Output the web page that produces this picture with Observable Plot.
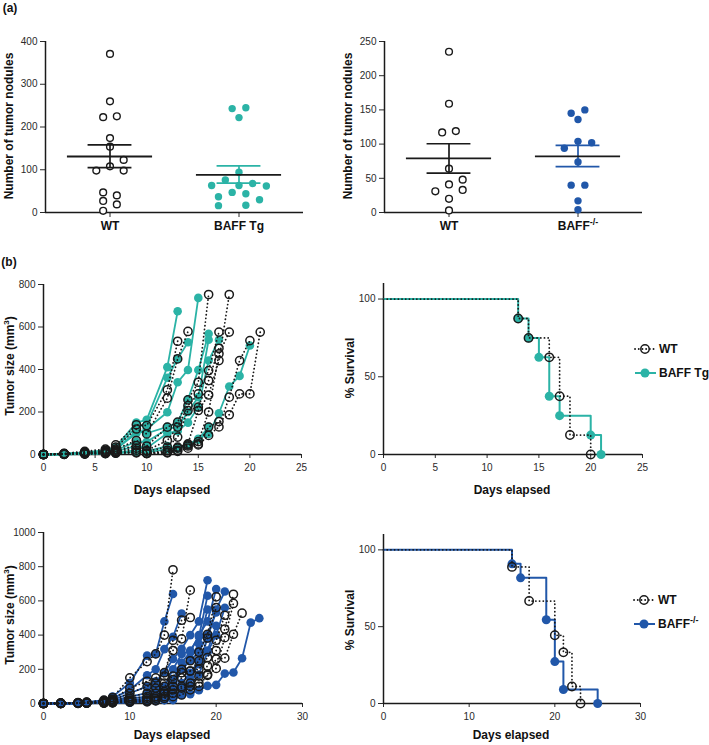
<!DOCTYPE html>
<html><head><meta charset="utf-8">
<script src="https://cdn.jsdelivr.net/npm/d3@7"></script>
<script src="https://cdn.jsdelivr.net/npm/@observablehq/plot@0.6"></script>
<style>
body{margin:0;background:#fff;}
#fig{position:relative;width:709px;height:745px;overflow:hidden;font-family:"Liberation Sans",Arial,sans-serif;color:#111;background:#fff;}
.t{position:absolute;white-space:nowrap;font-weight:bold;font-size:12px;transform:translate(-50%,-50%);line-height:1;}
.ty{transform:translate(-50%,-50%) rotate(-90deg);}
.t sup{font-size:8px;vertical-align:5px;line-height:0;}
.cat [aria-label^="x-axis"] text{font-weight:bold;font-size:12px;fill:#111;}
</style></head><body><div id="fig"></div>
<script>
// ---------------- DATA ----------------
// (a) left: tumor nodules, WT vs BAFF Tg
const namesA1 = ["WT", "BAFF Tg"];
const wtNodA1 = [371, 260, 223, 225, 174, 154, 123, 108, 98, 98, 47, 40, 27, 19, 4];
const wtJitA1 = [0, 0, -1, 1, 0, 0, 2, 0, -2, 2, -1, 1, -1, 1, -1];
const tgNodA1 = [243, 245, 222, 94, 76, 63, 63, 68, 62, 47, 44, 37, 30, 16, 17];
const tgJitA1 = [-1, 1, 0, 0, -2, -4, 0, 2, 4, -1, 1, -3, 3, -3, 1];
const meanA1 = [131, 88];
const semLoA1 = [105, 68.5];
const semHiA1 = [158, 109];
const yTicksA1 = [0, 100, 200, 300, 400];

// (a) right: tumor nodules, WT vs BAFF-/-
const namesA2 = ["WT", "BAFF-/-"];
const wtNodA2 = [235, 159, 117, 119, 64, 41, 48, 31, 33, 20, 3];
const wtJitA2 = [0, 0, -1, 1, 0, 0, 2, -2, 2, 0, 0];
const koNodA2 = [150, 145, 136, 104, 102, 94, 74, 40, 40, 17, 4];
const koJitA2 = [1, -1, 0, 0, 2, -2, 0, -1, 1, 0, 0];
const meanA2 = [79, 82];
const semLoA2 = [57.5, 67];
const semHiA2 = [100.5, 98];
const yTicksA2 = [0, 50, 100, 150, 200, 250];

// (b) top-left: tumor growth (mm3), WT vs BAFF Tg
const daysB1 = [0, 2, 4, 6, 7, 9, 10, 12, 13, 14, 15, 16, 17, 18, 19, 20, 21];
const wtGrowthB1 = [
  [0, 5, 15, 25, 45, 140, 136, 304, 533],
  [0, 4, 10, 20, 35, 120, 97, 265, 450, 579],
  [0, 3, 8, 15, 25, 66, 40, 129, 152, 257, 340, 753],
  [0, 3, 8, 12, 20, 42, 19, 66, 129, 230, 285, 395, 576],
  [0, 2, 6, 10, 15, 30, 15, 35, 82, 207, 223, 348, 500],
  [0, 2, 5, 8, 12, 20, 6, 20, 35, 50, 207, 280, 442, 753],
  [0, 2, 4, 6, 10, 11, 6, 11, 30, 45, 61, 200, 474, 576],
  [0, 1, 3, 5, 8, 10, 5, 10, 20, 40, 50, 129, 155, 187, 285, 285, 576],
  [0, 1, 2, 4, 6, 8, 4, 8, 15, 30, 45, 90, 130, 270, 442, 536]
];
const tgGrowthB1 = [
  [0, 4, 10, 20, 35, 150, 163, 411, 674],
  [0, 3, 8, 15, 30, 130, 140, 361, 450, 528],
  [0, 2, 6, 12, 25, 100, 120, 199, 340, 398, 737],
  [0, 2, 6, 12, 22, 110, 100, 130, 150, 260, 398, 568],
  [0, 2, 5, 10, 20, 60, 60, 120, 130, 200, 270, 540],
  [0, 1, 4, 8, 15, 40, 30, 100, 110, 150, 223, 442, 540],
  [0, 1, 3, 5, 8, 20, 15, 40, 27, 47, 74, 97, 194, 320, 370, 513],
  [0, 1, 2, 3, 5, 12, 10, 25, 35, 45, 70, 130]
];
const yTicksB1 = [0, 200, 400, 600, 800];
const xTicksB1 = [0, 5, 10, 15, 20, 25];

// (b) top-right: % survival
const survDayWtB2 = [0, 13, 14, 16, 17, 18, 20];
const survPctWtB2 = [100, 87.5, 75, 62.5, 37.5, 12.5, 0];
const survDayTgB2 = [0, 13, 14, 15, 16, 17, 20, 21];
const survPctTgB2 = [100, 87.5, 75, 62.5, 37.5, 25, 12.5, 0];

// (b) bottom-left: tumor growth (mm3), WT vs BAFF-/-
const daysB3 = [0, 2, 4, 5, 7, 8, 10, 12, 13, 14, 15, 16, 17, 18, 19, 20, 21, 22, 23, 24, 25];
const wtGrowthB3 = [
  [0, 2, 5, 8, 20, 35, 150, 245, 290, 400, 782],
  [0, 2, 4, 6, 15, 25, 90, 130, 150, 180, 310, 378, 663],
  [0, 1, 3, 5, 10, 20, 60, 100, 120, 160, 370, 487, 503],
  [0, 1, 3, 5, 8, 15, 40, 60, 90, 120, 160, 200, 250, 300, 405, 624],
  [0, 1, 2, 4, 6, 10, 30, 40, 60, 100, 140, 180, 190, 250, 383, 561],
  [0, 1, 2, 3, 5, 8, 20, 30, 40, 70, 100, 150, 190, 200, 269, 370, 516],
  [0, 1, 2, 3, 4, 6, 15, 20, 30, 60, 80, 100, 120, 160, 220, 310, 435, 639],
  [0, 0, 1, 2, 3, 5, 10, 15, 20, 40, 60, 90, 100, 120, 165, 205, 385, 585],
  [0, 0, 1, 2, 3, 4, 8, 10, 15, 30, 40, 50, 80, 100, 170, 260, 265, 405, 528]
];
const koGrowthB3 = [
  [0, 2, 5, 8, 20, 40, 120, 280, 290, 480, 640],
  [0, 2, 4, 6, 15, 30, 80, 165, 200, 318, 390, 526],
  [0, 1, 3, 5, 10, 20, 60, 100, 130, 180, 260, 320, 400, 480, 721],
  [0, 1, 3, 4, 8, 15, 40, 60, 90, 100, 200, 290, 310, 390, 630],
  [0, 1, 2, 3, 6, 10, 30, 40, 60, 90, 130, 200, 260, 350, 550],
  [0, 1, 2, 3, 5, 8, 20, 30, 40, 90, 140, 240, 300, 400, 480, 669],
  [0, 0, 2, 3, 5, 8, 15, 20, 30, 60, 90, 200, 250, 300, 400, 532],
  [0, 0, 1, 2, 4, 6, 10, 15, 20, 30, 60, 120, 180, 250, 310, 454],
  [0, 0, 1, 2, 4, 6, 10, 10, 20, 25, 40, 80, 150, 230, 380, 550, 655],
  [0, 0, 1, 2, 3, 5, 8, 10, 15, 20, 30, 50, 100, 170, 300, 400, 560],
  [0, 0, 1, 1, 2, 3, 5, 10, 15, 20, 20, 50, 55, 78, 103, 109, 175, 181, 265, 473, 499]
];
const yTicksB3 = [0, 200, 400, 600, 800, 1000];
const xTicksB3 = [0, 10, 20, 30];

// (b) bottom-right: % survival
const survDayWtB4 = [0, 15, 17, 20, 21, 22, 23];
const survPctWtB4 = [100, 88.9, 66.7, 44.4, 33.3, 11.1, 0];
const survDayKoB4 = [0, 15, 16, 19, 20, 21, 25];
const survPctKoB4 = [100, 90.9, 81.8, 54.5, 27.3, 9.1, 0];
const survTicks = [0, 50, 100];

// ---------------- STYLE / HELPERS ----------------
const teal = "#2bb3a6", blue = "#2157a9", ink = "#1a1a1a";
const fig = document.getElementById("fig");
const baseStyle = {fontFamily: "'Liberation Sans', Arial, sans-serif", fontSize: "10px", color: "#2a2a2a", background: "transparent", overflow: "visible"};
const dotted = {stroke: ink, strokeWidth: 1.8, strokeDasharray: "0.1,3.6", strokeLinecap: "round"};

function place(node, left, top) {
  node.style.position = "absolute";
  node.style.left = left + "px";
  node.style.top = top + "px";
  fig.appendChild(node);
}
function label(html, x, y, opts = {}) {
  const d = document.createElement("div");
  d.className = "t" + (opts.rot ? " ty" : "");
  d.innerHTML = html;
  d.style.left = x + "px";
  d.style.top = y + "px";
  if (opts.size) d.style.fontSize = opts.size + "px";
  if (opts.weight) d.style.fontWeight = opts.weight;
  fig.appendChild(d);
}
function superscriptKO(svg) {
  svg.querySelectorAll("text").forEach(t => {
    if (t.textContent === "BAFF-/-") {
      t.textContent = "BAFF";
      const ts = document.createElementNS("http://www.w3.org/2000/svg", "tspan");
      ts.setAttribute("dy", "-5");
      ts.setAttribute("font-size", "9");
      ts.textContent = "-/-";
      t.appendChild(ts);
    }
  });
}

// ---------------- (a) dot plots ----------------
function dotPanel(cfg) {
  const step = 0.053;
  const wtRows = cfg.wt.map((v, i) => ({x: 0 + cfg.wtJit[i] * step, y: v}));
  const koRows = cfg.ko.map((v, i) => ({x: 1 + cfg.koJit[i] * step, y: v}));
  const stats = cfg.names.map((n, i) => ({g: i, mean: cfg.mean[i], lo: cfg.lo[i], hi: cfg.hi[i]}));
  const colors = [ink, cfg.koColor];
  const marks = [
    Plot.ruleX([-0.5], {stroke: ink, strokeWidth: 1.5}),
    Plot.ruleY([0], {stroke: ink, strokeWidth: 1.5}),
    Plot.dot(wtRows, {x: "x", y: "y", r: 3.4, stroke: ink, strokeWidth: 1.4, fill: "white"}),
    Plot.dot(koRows, {x: "x", y: "y", r: 3.7, fill: cfg.koColor})
  ];
  stats.forEach((s, i) => {
    const c = colors[i];
    marks.push(Plot.ruleX([s], {x: "g", y1: "lo", y2: "hi", stroke: c, strokeWidth: 1.7}));
    marks.push(Plot.ruleY([s], {y: "lo", x1: d => d.g - 0.17, x2: d => d.g + 0.17, stroke: c, strokeWidth: 1.7}));
    marks.push(Plot.ruleY([s], {y: "hi", x1: d => d.g - 0.17, x2: d => d.g + 0.17, stroke: c, strokeWidth: 1.7}));
    marks.push(Plot.ruleY([s], {y: "mean", x1: d => d.g - 0.33, x2: d => d.g + 0.33, stroke: ink, strokeWidth: 1.8}));
  });
  const svg = Plot.plot({
    width: 330, height: 250,
    marginLeft: cfg.marginLeft, marginRight: cfg.marginRight, marginTop: 41, marginBottom: 38,
    className: "cat",
    style: baseStyle,
    x: {domain: [-0.5, 1.5], ticks: [0, 1], tickFormat: i => cfg.names[i], tickSize: 5, tickPadding: 4, label: null},
    y: {domain: [0, cfg.yTicks[cfg.yTicks.length - 1]], ticks: cfg.yTicks, tickSize: 5, tickPadding: 3, label: null, tickFormat: d3.format("d")},
    marks
  });
  superscriptKO(svg);
  return svg;
}

place(dotPanel({names: namesA1, wt: wtNodA1, wtJit: wtJitA1, ko: tgNodA1, koJit: tgJitA1, koColor: teal,
  mean: meanA1, lo: semLoA1, hi: semHiA1, yTicks: yTicksA1, marginLeft: 45, marginRight: 27}), 0, 0);
place(dotPanel({names: namesA2, wt: wtNodA2, wtJit: wtJitA2, ko: koNodA2, koJit: koJitA2, koColor: blue,
  mean: meanA2, lo: semLoA2, hi: semHiA2, yTicks: yTicksA2, marginLeft: 44, marginRight: 28}), 340, 0);

// ---------------- (b) growth curves ----------------
function toRows(mice, days) {
  const rows = [];
  mice.forEach((vals, m) => vals.forEach((v, i) => { if (v != null) rows.push({mouse: m, day: days[i], size: v}); }));
  return rows;
}
function growthPanel(cfg) {
  const wtRows = toRows(cfg.wt, cfg.days);
  const koRows = toRows(cfg.ko, cfg.days);
  return Plot.plot({
    width: 330, height: cfg.height,
    marginLeft: 43, marginRight: cfg.marginRight, marginTop: cfg.marginTop, marginBottom: cfg.marginBottom,
    style: baseStyle,
    x: {domain: [0, cfg.xTicks[cfg.xTicks.length - 1]], ticks: cfg.xTicks, tickSize: 4, tickPadding: 5, label: null},
    y: {domain: [0, cfg.yTicks[cfg.yTicks.length - 1]], ticks: cfg.yTicks, tickSize: 5, tickPadding: 3, label: null, tickFormat: d3.format("d")},
    marks: [
      Plot.ruleX([0], {stroke: ink, strokeWidth: 1.5}),
      Plot.ruleY([0], {stroke: ink, strokeWidth: 1.5}),
      Plot.line(koRows, {x: "day", y: "size", z: "mouse", stroke: cfg.koColor, strokeWidth: 1.8}),
      Plot.dot(koRows, {x: "day", y: "size", r: 4.3, fill: cfg.koColor}),
      Plot.line(wtRows, {x: "day", y: "size", z: "mouse", ...dotted}),
      Plot.dot(wtRows, {x: "day", y: "size", r: 4.1, stroke: ink, strokeWidth: 1.5, fill: "none"})
    ]
  });
}
place(growthPanel({days: daysB1, wt: wtGrowthB1, ko: tgGrowthB1, koColor: teal, xTicks: xTicksB1, yTicks: yTicksB1,
  height: 240, marginRight: 29, marginTop: 19, marginBottom: 51}), 0, 265);
place(growthPanel({days: daysB3, wt: wtGrowthB3, ko: koGrowthB3, koColor: blue, xTicks: xTicksB3, yTicks: yTicksB3,
  height: 225, marginRight: 28, marginTop: 12, marginBottom: 42}), 0, 520);

// ---------------- (b) survival ----------------
function survPanel(cfg) {
  const wt = cfg.wtDays.map((d, i) => ({day: d, pct: cfg.wtPct[i]}));
  const ko = cfg.koDays.map((d, i) => ({day: d, pct: cfg.koPct[i]}));
  return Plot.plot({
    width: 369, height: cfg.height,
    marginLeft: 43, marginRight: cfg.marginRight, marginTop: cfg.marginTop, marginBottom: cfg.marginBottom,
    style: baseStyle,
    x: {domain: [0, cfg.xTicks[cfg.xTicks.length - 1]], ticks: cfg.xTicks, tickSize: 4, tickPadding: 5, label: null},
    y: {domain: [0, 110], ticks: survTicks, tickSize: 5, tickPadding: 3, label: null},
    marks: [
      Plot.ruleX([0], {stroke: ink, strokeWidth: 1.5}),
      Plot.ruleY([0], {stroke: ink, strokeWidth: 1.5}),
      Plot.line(ko, {x: "day", y: "pct", curve: "step-after", stroke: cfg.koColor, strokeWidth: 2}),
      Plot.dot(ko.slice(1), {x: "day", y: "pct", r: 4.5, fill: cfg.koColor}),
      Plot.line(wt, {x: "day", y: "pct", curve: "step-after", ...dotted}),
      Plot.dot(wt.slice(1), {x: "day", y: "pct", r: 4.2, stroke: ink, strokeWidth: 1.5, fill: "none"})
    ]
  });
}
place(survPanel({wtDays: survDayWtB2, wtPct: survPctWtB2, koDays: survDayTgB2, koPct: survPctTgB2, koColor: teal,
  xTicks: xTicksB1, height: 240, marginRight: 67, marginTop: 18, marginBottom: 51}), 340, 265);
place(survPanel({wtDays: survDayWtB4, wtPct: survPctWtB4, koDays: survDayKoB4, koPct: survPctKoB4, koColor: blue,
  xTicks: xTicksB3, height: 225, marginRight: 69, marginTop: 14, marginBottom: 42}), 340, 520);

// ---------------- legends ----------------
function legend(left, top, koColor, koName) {
  const ns = "http://www.w3.org/2000/svg";
  const svg = document.createElementNS(ns, "svg");
  svg.setAttribute("width", 82); svg.setAttribute("height", 44);
  svg.style.overflow = "visible";
  svg.innerHTML =
    `<line x1="5" x2="26" y1="9" y2="9" stroke="${ink}" stroke-width="1.8" stroke-dasharray="0.1,3.6" stroke-linecap="round"/>` +
    `<circle cx="15" cy="9" r="4.2" fill="none" stroke="${ink}" stroke-width="1.5"/>` +
    `<text x="29" y="9" dy="0.35em" font-family="Liberation Sans, Arial, sans-serif" font-weight="bold" font-size="12" fill="#111">WT</text>` +
    `<line x1="5" x2="26" y1="33" y2="33" stroke="${koColor}" stroke-width="2"/>` +
    `<circle cx="15" cy="33" r="4.5" fill="${koColor}"/>` +
    `<text x="29" y="33" dy="0.35em" font-family="Liberation Sans, Arial, sans-serif" font-weight="bold" font-size="12" fill="#111">${koName}</text>`;
  place(svg, left, top);
}
legend(630, 340, teal, "BAFF Tg");
legend(629, 591, blue, `BAFF<tspan dy="-5" font-size="9">-/-</tspan>`);

// ---------------- titles ----------------
label("(a)", 10, 8, {size: 12});
label("(b)", 9, 262, {size: 12});
label("Number of tumor nodules", 9, 126, {rot: true});
label("Number of tumor nodules", 348, 126, {rot: true});
label("Tumor size (mm<sup>3</sup>)", 10, 366, {rot: true});
label("Tumor size (mm<sup>3</sup>)", 10, 615, {rot: true});
label("% Survival", 350, 368, {rot: true});
label("% Survival", 350, 620, {rot: true});
label("Days elapsed", 172, 490);
label("Days elapsed", 512, 490);
label("Days elapsed", 172, 735);
label("Days elapsed", 511, 735);
</script></body></html>
